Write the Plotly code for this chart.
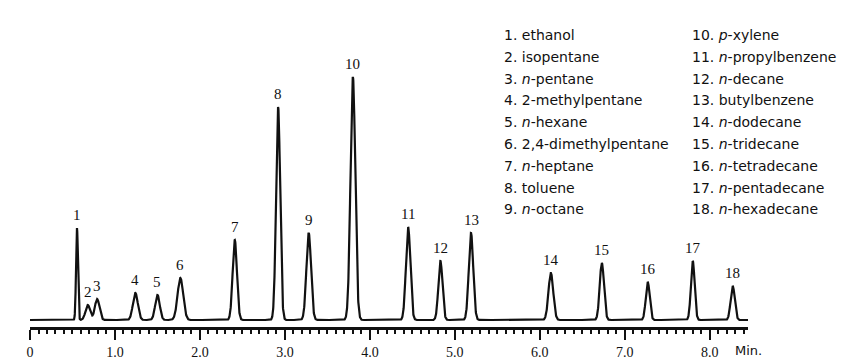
import numpy as np
import plotly.graph_objects as go

# ---- data ----
peak_ids = [str(i) for i in range(1, 19)]
retention_min = [0.553, 0.68, 0.79, 1.24, 1.50, 1.77, 2.41, 2.92, 3.28, 3.80,
                 4.45, 4.83, 5.19, 6.13, 6.73, 7.27, 7.80, 8.27]
peak_heights = [92, 15, 21, 27, 25, 42, 80, 213, 87, 243,
                93, 59, 87, 47, 57, 38, 59, 34]
peak_sigma_min = [0.011, 0.027, 0.027, 0.029, 0.027, 0.033, 0.025, 0.024, 0.027, 0.028,
                  0.026, 0.024, 0.026, 0.028, 0.025, 0.023, 0.022, 0.024]
compounds = ["ethanol", "isopentane", "<i>n</i>-pentane", "2-methylpentane",
             "<i>n</i>-hexane", "2,4-dimethylpentane", "<i>n</i>-heptane", "toluene",
             "<i>n</i>-octane", "<i>p</i>-xylene", "<i>n</i>-propylbenzene",
             "<i>n</i>-decane", "butylbenzene", "<i>n</i>-dodecane", "<i>n</i>-tridecane",
             "<i>n</i>-tetradecane", "<i>n</i>-pentadecane", "<i>n</i>-hexadecane"]
tick_vals = [0, 1, 2, 3, 4, 5, 6, 7, 8]
tick_text = ["0", "1.0", "2.0", "3.0", "4.0", "5.0", "6.0", "7.0", "8.0"]
x_end = 8.45

# ---- build the trace from the peak table ----
t = np.linspace(0, x_end, 5000)
signal = np.zeros_like(t)
for rt, h, s in zip(retention_min, peak_heights, peak_sigma_min):
    signal += h * np.exp(-0.5 * ((t - rt) / s) ** 2)

W, H = 846, 364
ML, MR, MT, MB = 30, 98, 10, 37
PW, PH = W - ML - MR, H - MT - MB

fig = go.Figure()
fig.add_trace(go.Scatter(x=t, y=signal, mode="lines",
                         line=dict(color="#111111", width=2.2), hoverinfo="skip",
                         showlegend=False))

annotations = []
serif = "Liberation Serif"
sans = "DejaVu Sans"
for pid, rt, h in zip(peak_ids, retention_min, peak_heights):
    annotations.append(dict(x=rt, y=h, xref="x", yref="y", text=pid, showarrow=False,
                            yanchor="middle", yshift=13,
                            font=dict(family=serif, size=15, color="#111111")))

def px2paper(px, py):
    return (px - ML) / PW, (H - MB - py) / PH

for i, name in enumerate(compounds):
    col, row = divmod(i, 9)
    px = 502 if col == 0 else 690
    py = 35 + 21.8 * row
    xp, yp = px2paper(px, py)
    annotations.append(dict(x=xp, y=yp, xref="paper", yref="paper",
                            text=f"{i + 1}. {name}", showarrow=False,
                            xanchor="left", yanchor="middle",
                            font=dict(family=sans, size=14, color="#111111")))

xp, yp = px2paper(733, 350)
annotations.append(dict(x=xp, y=yp, xref="paper", yref="paper", text="Min.",
                        showarrow=False, xanchor="left", yanchor="middle",
                        font=dict(family=sans, size=13, color="#111111")))

fig.update_layout(
    width=W, height=H,
    margin=dict(l=ML, r=MR, t=MT, b=MB, pad=0, autoexpand=False),
    paper_bgcolor="white", plot_bgcolor="white",
    annotations=annotations,
    xaxis=dict(range=[0, x_end], showgrid=False, zeroline=False, automargin=False,
               showline=True, linecolor="#111111", linewidth=3,
               tickmode="array", tickvals=tick_vals, ticktext=tick_text,
               ticks="outside", ticklen=10, tickwidth=2, tickcolor="#111111",
               ticklabelstandoff=0,
               minor=dict(dtick=0.1, ticks="outside", ticklen=4, tickwidth=1.5,
                          tickcolor="#111111", showgrid=False),
               tickfont=dict(family=serif, size=14, color="#111111")),
    yaxis=dict(range=[-7, 310], visible=False, automargin=False),
)

fig.write_html("out.html")
